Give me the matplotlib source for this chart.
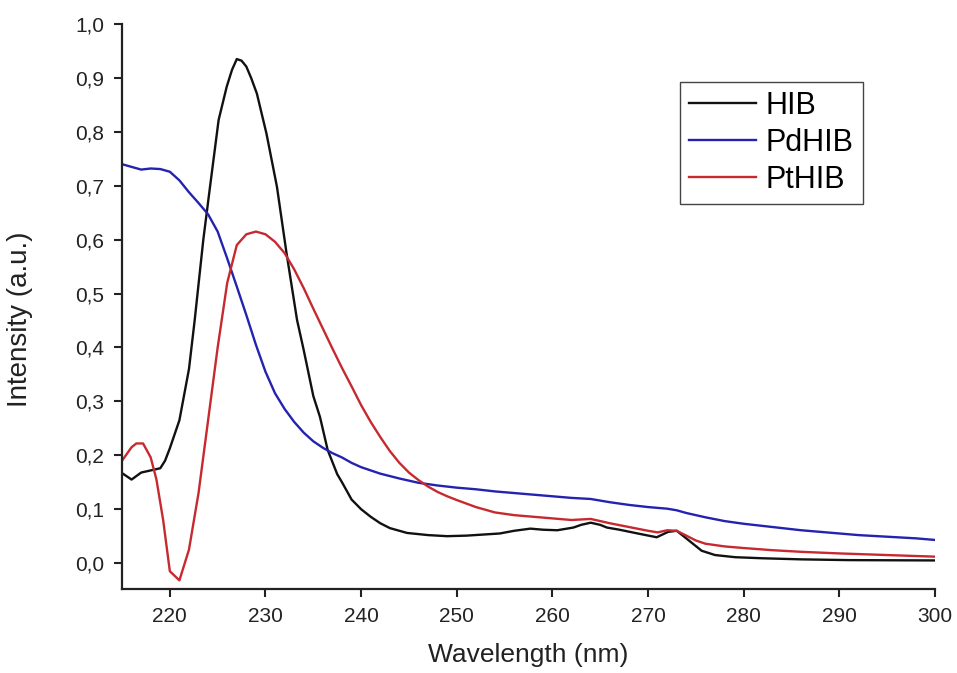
import matplotlib
matplotlib.use("Agg")
import matplotlib.pyplot as plt
from matplotlib.ticker import FuncFormatter, MultipleLocator

plt.rcParams['font.family'] = ['Liberation Sans', 'DejaVu Sans']

hib_x = [215, 216, 217, 218, 219, 219.5, 220, 221, 222, 222.6, 223.5, 224.2, 225.1, 225.95,
         226.5, 227, 227.5, 228, 228.5, 229.1, 230.1, 231.2, 232.2, 233.3, 234.0, 235.0, 235.7,
         236.5, 237.5, 238, 239, 240, 241, 242, 243, 244.8, 247, 249, 251, 254.5, 256, 257.7,
         259, 260.5, 262.2, 263, 264, 265, 265.7, 267, 269.2, 270.9, 272.1, 273, 274.2, 275.6,
         277, 279.1, 282, 286, 291, 300]
hib_y = [0.167, 0.155, 0.168, 0.172, 0.176, 0.190, 0.213, 0.265, 0.360, 0.451, 0.600, 0.698,
         0.822, 0.884, 0.915, 0.935, 0.932, 0.921, 0.900, 0.871, 0.797, 0.698, 0.575, 0.451,
         0.395, 0.310, 0.271, 0.210, 0.165, 0.150, 0.118, 0.100, 0.086, 0.074, 0.065, 0.056,
         0.052, 0.050, 0.051, 0.055, 0.060, 0.064, 0.062, 0.061, 0.066, 0.071, 0.075, 0.071,
         0.066, 0.062, 0.054, 0.048, 0.058, 0.060, 0.043, 0.023, 0.015, 0.011, 0.009, 0.007,
         0.0056, 0.005]

pd_x = [215, 216, 217, 218, 219, 220, 221, 222, 223, 224, 225, 226, 227, 228, 229, 230, 231,
        232, 233, 234, 235, 236, 237, 238, 239, 240, 242, 244, 246, 248, 250, 252, 254, 256,
        258, 260, 262, 264, 266, 268, 270, 272, 273, 274, 276, 278, 280, 282, 284, 286, 288,
        290, 292, 294, 296, 298, 300]
pd_y = [0.740, 0.735, 0.730, 0.732, 0.731, 0.726, 0.710, 0.688, 0.668, 0.647, 0.615, 0.565,
        0.513, 0.460, 0.405, 0.355, 0.315, 0.286, 0.262, 0.242, 0.226, 0.214, 0.204, 0.196,
        0.186, 0.178, 0.166, 0.157, 0.149, 0.144, 0.140, 0.137, 0.133, 0.130, 0.127, 0.124,
        0.121, 0.119, 0.113, 0.108, 0.104, 0.101, 0.098, 0.093, 0.085, 0.078, 0.073, 0.069,
        0.065, 0.061, 0.058, 0.055, 0.052, 0.050, 0.048, 0.046, 0.043]

pt_x = [215, 216, 216.5, 217.2, 218, 218.6, 219.3, 220, 221, 222, 223, 224, 225, 226, 227,
        228, 229, 230, 231, 232, 233, 234, 235, 236, 237, 238, 239, 240, 241, 242, 243, 244,
        245, 246, 247, 248, 249, 250, 252, 254, 256, 258, 260, 262, 263, 264, 265, 266, 268,
        270, 271, 272, 273, 274, 275, 276, 278, 280, 283, 286, 290, 295, 300]
pt_y = [0.190, 0.215, 0.222, 0.222, 0.196, 0.155, 0.080, -0.015, -0.032, 0.025, 0.130, 0.265,
        0.400, 0.520, 0.590, 0.610, 0.615, 0.610, 0.596, 0.575, 0.545, 0.510, 0.472, 0.435,
        0.398, 0.362, 0.328, 0.293, 0.262, 0.234, 0.208, 0.186, 0.168, 0.154, 0.142, 0.132,
        0.124, 0.117, 0.104, 0.094, 0.089, 0.086, 0.083, 0.080, 0.081, 0.082, 0.078, 0.074,
        0.067, 0.060, 0.057, 0.061, 0.060, 0.051, 0.042, 0.036, 0.031, 0.028, 0.024, 0.021,
        0.018, 0.015, 0.012]

series_labels = ['HIB', 'PdHIB', 'PtHIB']
series_colors = ['#111111', '#2323b0', '#c62a30']

fig = plt.figure(figsize=(9.57, 6.73), dpi=100)
ax = fig.add_axes([0.1275, 0.1248, 0.977 - 0.1275, 0.9643 - 0.1248])

for xs, ys, lab, col in zip([hib_x, pd_x, pt_x], [hib_y, pd_y, pt_y], series_labels, series_colors):
    ax.plot(xs, ys, color=col, lw=1.7, label=lab)

ax.set_xlim(215, 300)
ax.set_ylim(-0.048, 1.0)
ax.xaxis.set_major_locator(MultipleLocator(10))
ax.yaxis.set_major_locator(MultipleLocator(0.1))
ax.yaxis.set_major_formatter(FuncFormatter(lambda v, p: f"{v:.1f}".replace('.', ',').replace('-0,0', '0,0')))

for s in ['top', 'right']:
    ax.spines[s].set_visible(False)
for s in ['left', 'bottom']:
    ax.spines[s].set_linewidth(1.6)
    ax.spines[s].set_color('#222222')
ax.tick_params(direction='out', length=6, width=1.5, colors='#222222', labelsize=15, pad=7)

ax.set_xlabel('Wavelength (nm)', fontsize=19, color='#222222', labelpad=12)
ax.set_ylabel('Intensity (a.u.)', fontsize=20, color='#222222')
ax.yaxis.set_label_coords(-0.1095, 0.478)

leg = ax.legend(loc='upper left', bbox_to_anchor=(680 / 957, 1 - 82 / 673),
                bbox_transform=fig.transFigure, borderaxespad=0, fontsize=22,
                fancybox=False, edgecolor='#444444', framealpha=1,
                handlelength=2.2, handletextpad=0.3, labelspacing=0.22, borderpad=0.3)
leg.get_frame().set_linewidth(1.0)

fig.savefig('out.png', dpi=100)
